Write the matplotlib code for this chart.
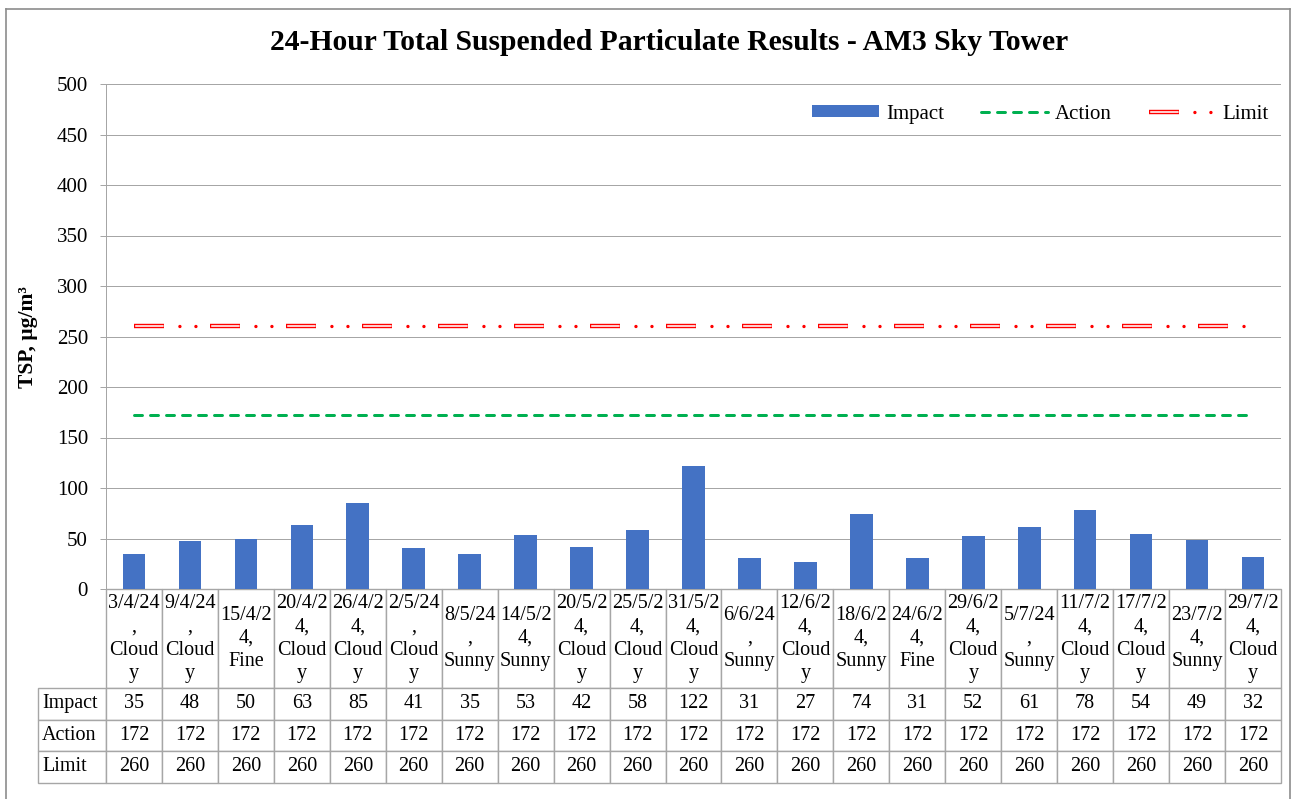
import numpy as np
import matplotlib
matplotlib.use('Agg')
import matplotlib.pyplot as plt
from matplotlib.lines import Line2D
from matplotlib.table import Table
from matplotlib.legend_handler import HandlerTuple

plt.rcParams['font.family'] = ['Liberation Serif', 'DejaVu Serif']
plt.rcParams['lines.scale_dashes'] = False

# category labels, wrapped the way the data table shows them
labels = ['3/4/24\n,\nCloud\ny', '9/4/24\n,\nCloud\ny', '15/4/2\n4,\nFine',
          '20/4/2\n4,\nCloud\ny', '26/4/2\n4,\nCloud\ny', '2/5/24\n,\nCloud\ny',
          '8/5/24\n,\nSunny', '14/5/2\n4,\nSunny', '20/5/2\n4,\nCloud\ny',
          '25/5/2\n4,\nCloud\ny', '31/5/2\n4,\nCloud\ny', '6/6/24\n,\nSunny',
          '12/6/2\n4,\nCloud\ny', '18/6/2\n4,\nSunny', '24/6/2\n4,\nFine',
          '29/6/2\n4,\nCloud\ny', '5/7/24\n,\nSunny', '11/7/2\n4,\nCloud\ny',
          '17/7/2\n4,\nCloud\ny', '23/7/2\n4,\nSunny', '29/7/2\n4,\nCloud\ny']
impact = [35, 48, 50, 63, 85, 41, 35, 53, 42, 58, 122, 31, 27, 74, 31, 52, 61, 78, 54, 49, 32]
action = [172, 172, 172, 172, 172, 172, 172, 172, 172, 172, 172,
          172, 172, 172, 172, 172, 172, 172, 172, 172, 172]
limit = [260, 260, 260, 260, 260, 260, 260, 260, 260, 260, 260,
         260, 260, 260, 260, 260, 260, 260, 260, 260, 260]
row_names = ['Impact', 'Action', 'Limit']
yticks = [0, 50, 100, 150, 200, 250, 300, 350, 400, 450, 500]

W, H = 1292, 799
fig = plt.figure(figsize=(W / 100, H / 100), dpi=100)
PX = 0.72  # points per pixel
gray = '#A6A6A6'
fs = 15
fs_tab = 14.5

# outer chart border
for xs, ys in [([6, 6], [9, 810]), ([6, 1290], [9, 9]), ([1290, 1290], [9, 810])]:
    fig.add_artist(Line2D([x / W for x in xs], [1 - y / H for y in ys],
                          transform=fig.transFigure, color='#8C8C8C', lw=1.2))

ax_w, ax_h = 1281 - 106, 589 - 84
ax = fig.add_axes([106 / W, 1 - 589 / H, ax_w / W, ax_h / H])
x = np.arange(len(impact))

bars = ax.bar(x, impact, width=0.405, color='#4472C4', zorder=3, label='Impact')

act, = ax.plot(x, action, color='#00B050', lw=3 * PX, solid_capstyle='round',
               dash_capstyle='round', dashes=(8 * PX, 8 * PX), zorder=4)

red_kw = dict(color='#FF0000', lw=4.4 * PX, dash_capstyle='butt', zorder=4)
white_kw = dict(color='white', lw=1.6 * PX, dash_capstyle='butt', zorder=5)
dot_kw = dict(color='#FF0000', lw=3.4 * PX, dash_capstyle='round', zorder=4)
red_ls = (0, (30 * PX, 46 * PX))
white_ls = (74.8 * PX, (28.4 * PX, 47.6 * PX))
dot_ls = (30.6 * PX, (0.01, 16 * PX, 0.01, 59.98 * PX))
ax.plot(x, limit, linestyle=red_ls, **red_kw)
ax.plot(x, limit, linestyle=white_ls, **white_kw)
ax.plot(x, limit, linestyle=dot_ls, **dot_kw)

ax.set_xlim(-0.5, len(impact) - 0.5)
ax.set_ylim(0, 500)
ax.set_yticks(yticks)
ax.set_xticks([])
ax.yaxis.grid(True, color=gray, lw=1 * PX)
ax.set_axisbelow(True)
for s in ['top', 'right']:
    ax.spines[s].set_visible(False)
for s in ['left', 'bottom']:
    ax.spines[s].set_color(gray)
    ax.spines[s].set_linewidth(1 * PX)
ax.tick_params(axis='y', direction='out', length=6 * PX, width=1 * PX, color=gray,
               pad=12 * PX, labelsize=fs)

# legend
lim_red = Line2D([], [], linestyle=red_ls, **red_kw)
lim_white = Line2D([], [], linestyle=white_ls, **white_kw)
lim_dot = Line2D([], [], linestyle=dot_ls, **dot_kw)
ax.legend([bars, act, (lim_red, lim_white, lim_dot)], ['Impact', 'Action', 'Limit'],
          handler_map={tuple: HandlerTuple(ndivide=1, pad=0)},
          loc='upper right', bbox_to_anchor=(1.007, 1.0), ncol=3, frameon=False,
          fontsize=fs, handlelength=3.2, handleheight=0.5, handletextpad=0.33,
          columnspacing=1.78, borderaxespad=0.6)

# data table under the axis (sizes in axes units so the bbox scale is 1)
n = len(impact)
cw, lw_ = 1 / n, 68 / ax_w
hh, rh = 99 / ax_h, 31.5 / ax_h
tb = Table(ax, bbox=[0, -(hh + 3 * rh), 1, hh + 3 * rh])
for j in range(n):
    c = tb.add_cell(0, j, width=cw, height=hh, text=labels[j], loc='center')
    c.set_edgecolor(gray)
    c.get_text().set_fontsize(fs_tab)
    c.get_text().set_linespacing(1.3)
rows = [impact, action, limit]
for i in range(3):
    c = tb.add_cell(i + 1, -1, width=lw_, height=rh, text=row_names[i], loc='left')
    c.set_edgecolor(gray)
    c.get_text().set_fontsize(fs_tab)
    c.PAD = 0.06
    for j in range(n):
        c = tb.add_cell(i + 1, j, width=cw, height=rh, text=str(rows[i][j]), loc='center')
        c.set_edgecolor(gray)
        c.get_text().set_fontsize(fs_tab)
tb.auto_set_font_size(False)
ax.add_table(tb)

fig.text(669 / W, 1 - 50 / H, '24-Hour Total Suspended Particulate Results - AM3 Sky Tower',
         ha='center', va='baseline', fontsize=21.3, fontweight='bold')
fig.text(28 / W, 1 - 337 / H, 'TSP, µg/m³', rotation=90, ha='center', va='center',
         fontsize=15.5, fontweight='bold')

fig.savefig('out.png', dpi=100)
